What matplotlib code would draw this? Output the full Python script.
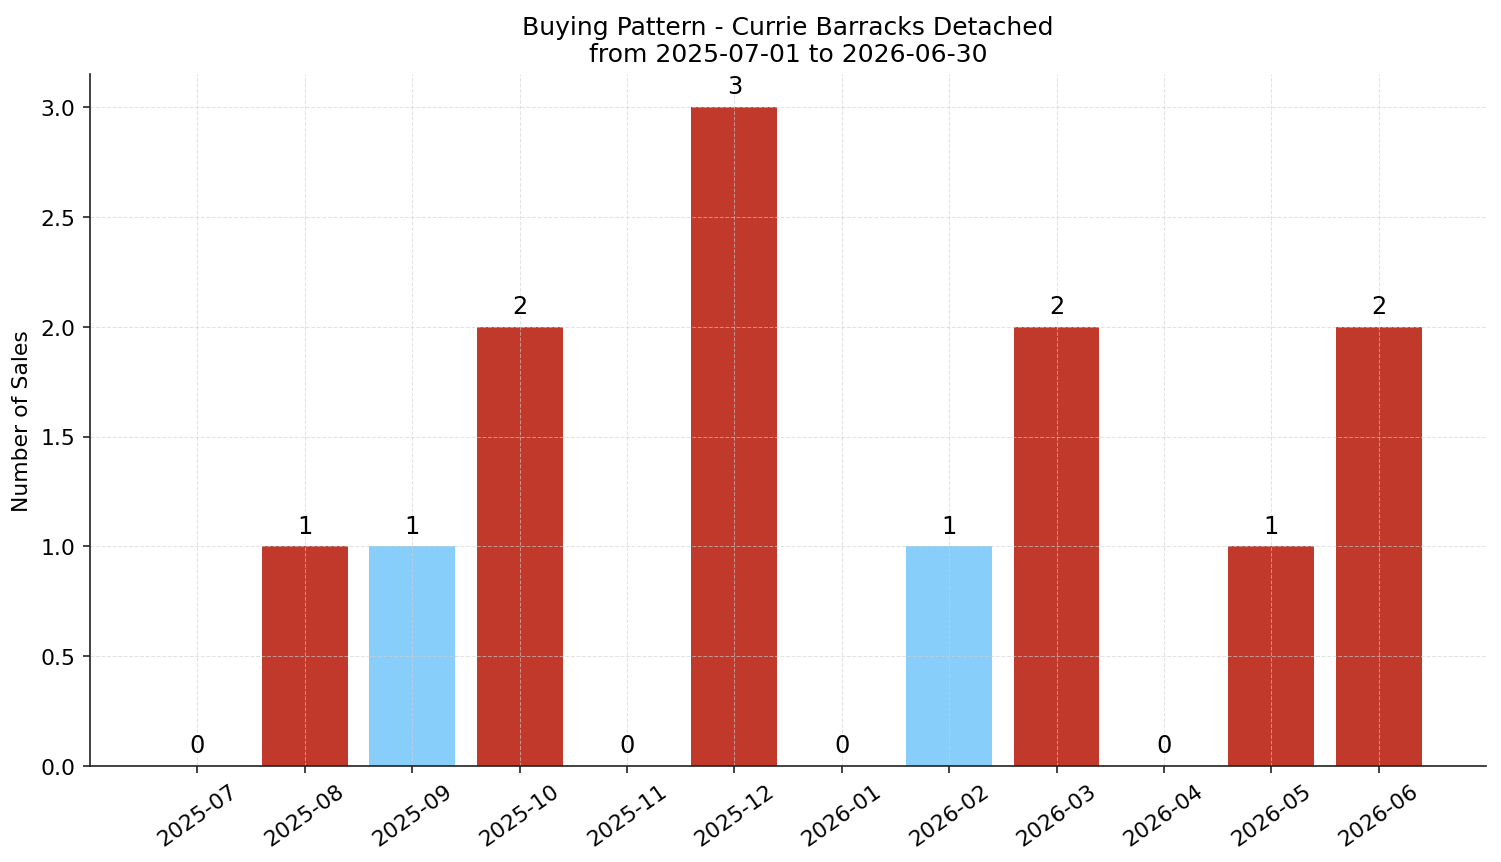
import matplotlib
matplotlib.use("Agg")
import matplotlib.pyplot as plt

# NOTE: monthly sales counts
months = [
    "2025-07", "2025-08", "2025-09", "2025-10", "2025-11", "2025-12",
    "2026-01", "2026-02", "2026-03", "2026-04", "2026-05", "2026-06",
]
sales = [0, 1, 1, 2, 0, 3, 0, 1, 2, 0, 1, 2]
bar_colors = [
    "#c0392b", "#c0392b", "#87cefa", "#c0392b", "#c0392b", "#c0392b",
    "#c0392b", "#87cefa", "#c0392b", "#c0392b", "#c0392b", "#c0392b",
]

fig, ax = plt.subplots(figsize=(10.007, 5.753), dpi=150)
x = list(range(len(months)))
bars = ax.bar(x, sales, width=0.8, color=bar_colors)

# labels on top
for xi, v in zip(x, sales):
    ax.text(xi, v + 0.04, str(v), ha="center", va="bottom", fontsize=11.5)

ax.set_xticks(x)
ax.set_xticklabels(months, rotation=35)
ax.tick_params(labelsize=10.5, color="#222222")
ax.set_xlim(-1.0, 12.0)
ax.set_ylabel("Number of Sales", fontsize=10.5)
ax.set_title("Buying Pattern - Currie Barracks Detached\nfrom 2025-07-01 to 2026-06-30", fontsize=12)
ax.grid(True, linestyle="--", linewidth=0.5, color="#d0d0d0", alpha=0.6)
ax.spines["top"].set_visible(False)
ax.spines["right"].set_visible(False)
for s in ["left", "bottom"]:
    ax.spines[s].set_color("#222222")

fig.subplots_adjust(left=0.060, right=0.990, top=0.9131, bottom=0.1112)
plt.savefig("out.png", dpi=150)
